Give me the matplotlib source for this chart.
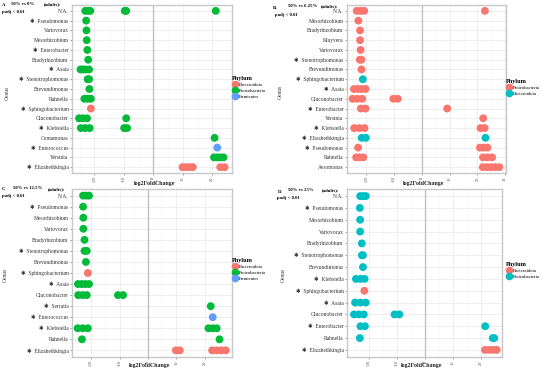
import matplotlib
matplotlib.use("Agg")
import matplotlib.pyplot as plt
from matplotlib.lines import Line2D

plt.rcParams["font.family"] = ["Liberation Serif", "DejaVu Sans"]

W, H = 550, 370

# ---------------- data ----------------
# A. 50% vs 0%
A_GENUS = ["N.A.", "Pseudomonas", "Variovorax", "Mesorhizobium", "Enterobacter",
           "Bradyrhizobium", "Asaia", "Stenotrophomonas", "Brevundimonas", "Rahnella",
           "Sphingobacterium", "Gluconobacter", "Klebsiella", "Comamonas",
           "Enterococcus", "Yersinia", "Elizabethkingia"]
A_STAR = ["Pseudomonas", "Enterobacter", "Asaia", "Stenotrophomonas",
          "Sphingobacterium", "Klebsiella", "Enterococcus", "Elizabethkingia"]
A_PHYLA = ["Bacteroidota", "Proteobacteria", "Firmicutes"]
A_POINTS = [
    ("N.A.", "Proteobacteria", [-23.1, -22.2, -21.4, -9.7, -9.2, 21.2]),
    ("Pseudomonas", "Proteobacteria", [-22.8]),
    ("Variovorax", "Proteobacteria", [-22.7]),
    ("Mesorhizobium", "Proteobacteria", [-22.6]),
    ("Enterobacter", "Proteobacteria", [-22.4]),
    ("Bradyrhizobium", "Proteobacteria", [-22.1]),
    ("Asaia", "Proteobacteria", [-24.7, -23.8, -22.9, -21.8]),
    ("Stenotrophomonas", "Proteobacteria", [-22.3, -21.8]),
    ("Brevundimonas", "Proteobacteria", [-21.7]),
    ("Rahnella", "Proteobacteria", [-23.4, -22.3, -21.2]),
    ("Sphingobacterium", "Bacteroidota", [-21.2]),
    ("Gluconobacter", "Proteobacteria", [-25.2, -23.9, -22.5, -9.2]),
    ("Klebsiella", "Proteobacteria", [-24.6, -23.1, -21.6, -9.9, -8.9]),
    ("Comamonas", "Proteobacteria", [20.8]),
    ("Enterococcus", "Firmicutes", [21.7]),
    ("Yersinia", "Proteobacteria", [20.6, 21.7, 22.8, 23.8]),
    ("Elizabethkingia", "Bacteroidota", [9.9, 11.1, 12.3, 13.4, 22.7, 24.2]),
]

# B. 50% vs 6.25%
B_GENUS = ["N.A.", "Mesorhizobium", "Bradyrhizobium", "Kluyvera", "Variovorax",
           "Stenotrophomonas", "Brevundimonas", "Sphingobacterium", "Asaia",
           "Gluconobacter", "Enterobacter", "Yersinia", "Klebsiella",
           "Elizabethkingia", "Pseudomonas", "Rahnella", "Aeromonas"]
B_STAR = ["Stenotrophomonas", "Sphingobacterium", "Asaia", "Enterobacter",
          "Klebsiella", "Elizabethkingia", "Pseudomonas"]
B_PHYLA = ["Proteobacteria", "Bacteroidota"]
B_POINTS = [
    ("N.A.", "Proteobacteria", [-23.5, -22.1, -20.8, 22.7]),
    ("Mesorhizobium", "Proteobacteria", [-22.9]),
    ("Bradyrhizobium", "Proteobacteria", [-22.3]),
    ("Kluyvera", "Proteobacteria", [-22.3]),
    ("Variovorax", "Proteobacteria", [-22.1]),
    ("Stenotrophomonas", "Proteobacteria", [-22.4, -21.8]),
    ("Brevundimonas", "Proteobacteria", [-21.8]),
    ("Sphingobacterium", "Bacteroidota", [-21.3]),
    ("Asaia", "Proteobacteria", [-24.5, -23.1, -21.7, -20.3]),
    ("Gluconobacter", "Proteobacteria", [-25.0, -23.3, -21.5, -10.3, -8.7]),
    ("Enterobacter", "Proteobacteria", [-22.0, -20.3, 9.1]),
    ("Yersinia", "Proteobacteria", [22.1]),
    ("Klebsiella", "Proteobacteria", [-24.4, -22.5, -20.7, 21.1, 22.6]),
    ("Elizabethkingia", "Bacteroidota", [-21.7, -20.2, 22.9]),
    ("Pseudomonas", "Proteobacteria", [-23.0, 20.9, 22.2, 23.6]),
    ("Rahnella", "Proteobacteria", [-23.7, -22.4, -21.1, 22.0, 23.6, 25.3]),
    ("Aeromonas", "Proteobacteria", [21.9, 23.4, 24.9, 26.4, 27.9]),
]

# C. 50% vs 12.5%
C_GENUS = ["N.A.", "Pseudomonas", "Mesorhizobium", "Variovorax", "Bradyrhizobium",
           "Stenotrophomonas", "Brevundimonas", "Sphingobacterium", "Asaia",
           "Gluconobacter", "Serratia", "Enterococcus", "Klebsiella", "Rahnella",
           "Elizabethkingia"]
C_STAR = ["Pseudomonas", "Stenotrophomonas", "Sphingobacterium", "Asaia",
          "Serratia", "Enterococcus", "Klebsiella", "Elizabethkingia"]
C_PHYLA = ["Bacteroidota", "Proteobacteria", "Firmicutes"]
C_POINTS = [
    ("N.A.", "Proteobacteria", [-22.9, -21.8, -20.8]),
    ("Pseudomonas", "Proteobacteria", [-22.9]),
    ("Mesorhizobium", "Proteobacteria", [-22.8]),
    ("Variovorax", "Proteobacteria", [-22.8]),
    ("Bradyrhizobium", "Proteobacteria", [-22.4]),
    ("Stenotrophomonas", "Proteobacteria", [-22.4, -21.6]),
    ("Brevundimonas", "Proteobacteria", [-21.9]),
    ("Sphingobacterium", "Bacteroidota", [-21.2]),
    ("Asaia", "Proteobacteria", [-24.7, -23.4, -22.1, -20.8]),
    ("Gluconobacter", "Proteobacteria", [-24.6, -23.1, -21.6, -10.6, -8.8]),
    ("Serratia", "Proteobacteria", [22.1]),
    ("Enterococcus", "Firmicutes", [22.8]),
    ("Klebsiella", "Proteobacteria", [-24.8, -23.0, -21.2, 21.3, 22.8, 24.2]),
    ("Rahnella", "Proteobacteria", [-23.3, 25.2]),
    ("Elizabethkingia", "Bacteroidota", [9.8, 11.2, 22.6, 24.2, 25.8, 27.4]),
]

# D. 50% vs 25%
D_GENUS = ["N.A.", "Pseudomonas", "Mesorhizobium", "Variovorax", "Bradyrhizobium",
           "Stenotrophomonas", "Brevundimonas", "Klebsiella", "Sphingobacterium",
           "Asaia", "Gluconobacter", "Enterobacter", "Rahnella", "Elizabethkingia"]
D_STAR = ["Pseudomonas", "Stenotrophomonas", "Klebsiella", "Sphingobacterium",
          "Asaia", "Enterobacter", "Elizabethkingia"]
D_PHYLA = ["Bacteroidota", "Proteobacteria"]
D_POINTS = [
    ("N.A.", "Proteobacteria", [-23.1, -22.1, -21.1]),
    ("Pseudomonas", "Proteobacteria", [-23.2]),
    ("Mesorhizobium", "Proteobacteria", [-23.1]),
    ("Variovorax", "Proteobacteria", [-23.1]),
    ("Bradyrhizobium", "Proteobacteria", [-22.5]),
    ("Stenotrophomonas", "Proteobacteria", [-22.5, -22.1]),
    ("Brevundimonas", "Proteobacteria", [-22.1]),
    ("Klebsiella", "Proteobacteria", [-24.6, -23.0, -21.5]),
    ("Sphingobacterium", "Bacteroidota", [-21.6]),
    ("Asaia", "Proteobacteria", [-24.9, -23.0, -21.1]),
    ("Gluconobacter", "Proteobacteria", [-25.3, -23.5, -21.8, -10.8, -9.1]),
    ("Enterobacter", "Proteobacteria", [-23.0, -21.4, 21.6]),
    ("Rahnella", "Proteobacteria", [-23.2, 24.3, 24.8]),
    ("Elizabethkingia", "Bacteroidota", [21.5, 22.9, 24.3, 25.7]),
]

PALETTE = {2: ["#F8766D", "#00BFC4"], 3: ["#F8766D", "#00BA38", "#619CFF"]}


def panel(fig, box, genus, star, phyla, points, xlim, ticks, legend_xy):
    l, t, r, b = box
    ax = fig.add_axes([l / W, 1 - b / H, (r - l) / W, (b - t) / H])
    colors = dict(zip(phyla, PALETTE[len(phyla)]))
    n = len(genus)
    ypos = {g: n - 1 - i for i, g in enumerate(genus)}

    ax.set_xlim(*xlim)
    ax.set_ylim(-0.6, n - 0.4)
    ax.set_xticks(ticks)
    ax.set_xticks([v + 5 for v in ticks[:-1]] + [ticks[0] - 5], minor=True)
    ax.set_xticklabels([str(v) for v in ticks], rotation=90, fontsize=3.2,
                       color="#444444")
    ax.set_yticks(range(n))
    ax.set_yticklabels([("\u2731  " + g) if g in star else g for g in genus][::-1],
                       fontsize=4, color="#333333")
    ax.tick_params(axis="both", which="major", length=1.5, width=0.4,
                   color="#555555", pad=1)
    ax.tick_params(axis="x", which="minor", length=0)
    ax.grid(True, which="major", color="#e8e8e8", linewidth=0.5)
    ax.grid(True, which="minor", axis="x", color="#f3f3f3", linewidth=0.4)
    ax.set_axisbelow(True)
    for s in ax.spines.values():
        s.set_color("#c8c8c8")
        s.set_linewidth(1.0)
    ax.axvline(0, color="#bdbdbd", linewidth=0.9, zorder=1)

    for g, ph, xs in points:
        ax.scatter(xs, [ypos[g]] * len(xs), s=32, color=colors[ph],
                   edgecolors="none", zorder=3)

    handles = [Line2D([], [], marker="o", linestyle="", markersize=5.5,
                      markerfacecolor=colors[p], markeredgecolor="none", label=p)
               for p in phyla]
    leg = ax.legend(handles=handles, title="Phylum", loc="upper left",
                    bbox_to_anchor=(legend_xy[0] / W, 1 - legend_xy[1] / H),
                    bbox_transform=fig.transFigure, frameon=False, fontsize=3.4,
                    handletextpad=0.2, labelspacing=0.35, borderaxespad=0,
                    borderpad=0, handlelength=1.2)
    leg.get_title().set_fontsize(4.5)
    leg.get_title().set_fontweight("bold")
    leg._legend_box.align = "left"
    return ax


fig = plt.figure(figsize=(5.5, 3.7), dpi=100)
fig.patch.set_facecolor("white")

panel(fig, (72, 5, 232, 173), A_GENUS, A_STAR, A_PHYLA, A_POINTS,
      (-27.6, 26.7), [-20, -10, 0, 10, 20], (232, 76))
panel(fig, (347, 5, 506, 173), B_GENUS, B_STAR, B_PHYLA, B_POINTS,
      (-27.0, 30.3), [-20, -10, 0, 10, 20, 30], (506, 79))
panel(fig, (72, 189, 232, 357), C_GENUS, C_STAR, C_PHYLA, C_POINTS,
      (-26.8, 29.6), [-20, -10, 0, 10, 20], (232, 258))
panel(fig, (347, 189, 502, 357), D_GENUS, D_STAR, D_PHYLA, D_POINTS,
      (-27.8, 27.6), [-20, -10, 0, 10, 20], (506, 262))


def fx(x):
    return x / W


def fy(y):
    return 1 - y / H


# panel captions
caps = [
    ("A.", (2, 5), "50% vs 0%", (11, 4), (44, 4), (2, 12.5)),
    ("B.", (273, 8), "50% vs 6.25%", (288, 6), (321, 6), (275, 15)),
    ("C.", (2, 189), "50% vs 12.5%", (13, 188), (48, 189), (2, 196)),
    ("D.", (278, 192), "50% vs 25%", (288, 190), (322, 190), (277, 198)),
]
for let, p0, cmp, p1, p2, p3 in caps:
    kw = dict(fontsize=3.4, fontweight="bold", va="center", ha="left")
    fig.text(fx(p0[0]), fy(p0[1]), let, **kw)
    fig.text(fx(p1[0]), fy(p1[1]), cmp, **kw)
    fig.text(fx(p2[0]), fy(p2[1]), "(adults):", **kw)
    fig.text(fx(p3[0]), fy(p3[1]), "padj < 0.01", **kw)

for x, y in [(7, 93), (280, 92), (5, 275), (283, 275)]:
    fig.text(fx(x), fy(y), "Genus", rotation=90, fontsize=4, color="#333333",
             ha="center", va="center")
for x, y in [(155, 183), (424, 183), (150, 366), (422, 366)]:
    fig.text(fx(x), fy(y), "log2FoldChange", fontsize=4.2, fontweight="bold",
             ha="center", va="center", color="#222222")

fig.savefig("out.png", dpi=100, facecolor="white")
